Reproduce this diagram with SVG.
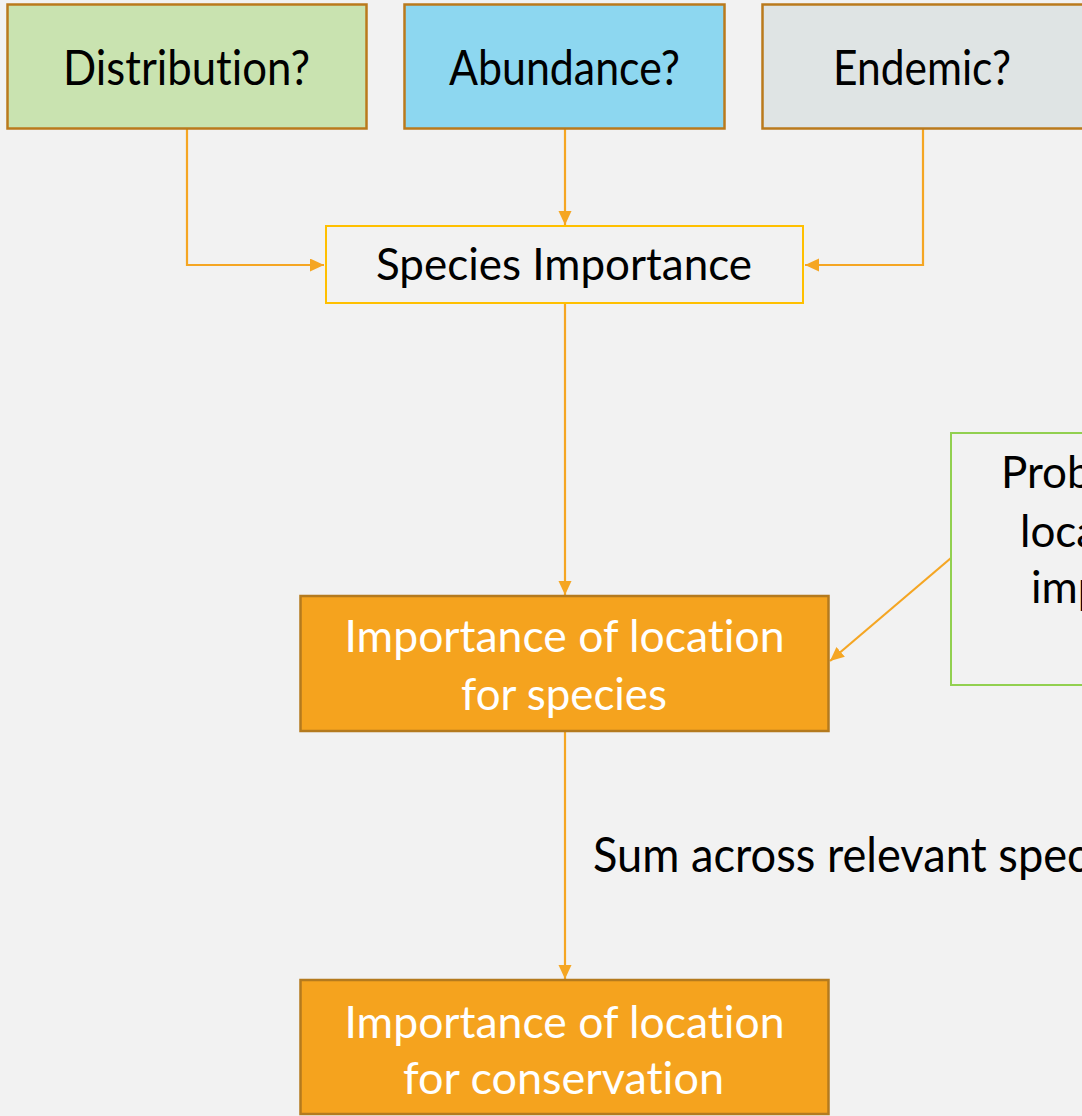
<svg xmlns="http://www.w3.org/2000/svg" width="1082" height="1116" viewBox="0 0 1082 1116">
<defs>
<marker id="arr" markerUnits="userSpaceOnUse" markerWidth="14" markerHeight="14" refX="14" refY="6.5" orient="auto">
<path d="M0,0 L14,6.5 L0,13 z" fill="#F5A623"/>
</marker>
<style>
text{font-family:Lato,"Open Sans","Liberation Sans",sans-serif;font-variant-ligatures:none;font-feature-settings:"liga" 0}
.t{text-anchor:middle}
.big{font-size:48px;fill:#000}
.mid{font-size:44px}
.blk{fill:#000}
.wht{fill:#fff}
.top{stroke:#BA7A1C;stroke-width:2.5}
.org{fill:#F5A31E;stroke:#B47A1E;stroke-width:2.5}
.c{fill:none;stroke:#F5A623;stroke-width:2.2}
</style>
</defs>
<rect width="1082" height="1116" fill="#F2F2F2"/>
<g id="connectors">
<path class="c" d="M187,129 V265 H324" marker-end="url(#arr)"/>
<path class="c" d="M565,129 V225" marker-end="url(#arr)"/>
<path class="c" d="M923,129 V265 H805" marker-end="url(#arr)"/>
<path class="c" d="M565,303 V595" marker-end="url(#arr)"/>
<path class="c" d="M951,558 L830,661" marker-end="url(#arr)"/>
<path class="c" d="M565,731 V979" marker-end="url(#arr)"/>
</g>
<g id="distribution">
<rect class="top" x="7.5" y="4.5" width="359" height="124" fill="#C9E3B0"/>
<text class="t big" x="186.5" y="85" textLength="247" lengthAdjust="spacingAndGlyphs">Distribution?</text>
</g>
<g id="abundance">
<rect class="top" x="404.5" y="4.5" width="320" height="124" fill="#8DD7F0"/>
<text class="t big" x="564.5" y="85" textLength="231" lengthAdjust="spacingAndGlyphs">Abundance?</text>
</g>
<g id="endemic">
<rect class="top" x="762.5" y="4.5" width="330" height="124" fill="#DFE4E4"/>
<text class="t big" x="922" y="85" textLength="178" lengthAdjust="spacingAndGlyphs">Endemic?</text>
</g>
<g id="species-importance">
<rect x="326" y="226" width="477" height="77" fill="#F2F2F2" stroke="#FFC000" stroke-width="2"/>
<text class="t mid blk" x="564" y="280" textLength="376" lengthAdjust="spacingAndGlyphs">Species Importance</text>
</g>
<g id="probability">
<rect x="951" y="433" width="200" height="252" fill="#F2F2F2" stroke="#92D050" stroke-width="2"/>
<text class="mid blk" x="1001" y="488">Probability</text>
<text class="mid blk" x="1020" y="547">location</text>
<text class="mid blk" x="1031" y="603">important</text>
</g>
<g id="location-species">
<rect class="org" x="300.5" y="596" width="528" height="135"/>
<text class="t mid wht" x="564.5" y="652" textLength="440" lengthAdjust="spacingAndGlyphs">Importance of location</text>
<text class="t mid wht" x="564" y="710" textLength="206" lengthAdjust="spacingAndGlyphs">for species</text>
</g>
<g id="sum-label">
<text class="big" x="593" y="872" textLength="550" lengthAdjust="spacingAndGlyphs">Sum across relevant species</text>
</g>
<g id="location-conservation">
<rect class="org" x="300.5" y="980" width="528" height="134"/>
<text class="t mid wht" x="564.5" y="1038" textLength="440" lengthAdjust="spacingAndGlyphs">Importance of location</text>
<text class="t mid wht" x="563.5" y="1094" textLength="321" lengthAdjust="spacingAndGlyphs">for conservation</text>
</g>
</svg>
